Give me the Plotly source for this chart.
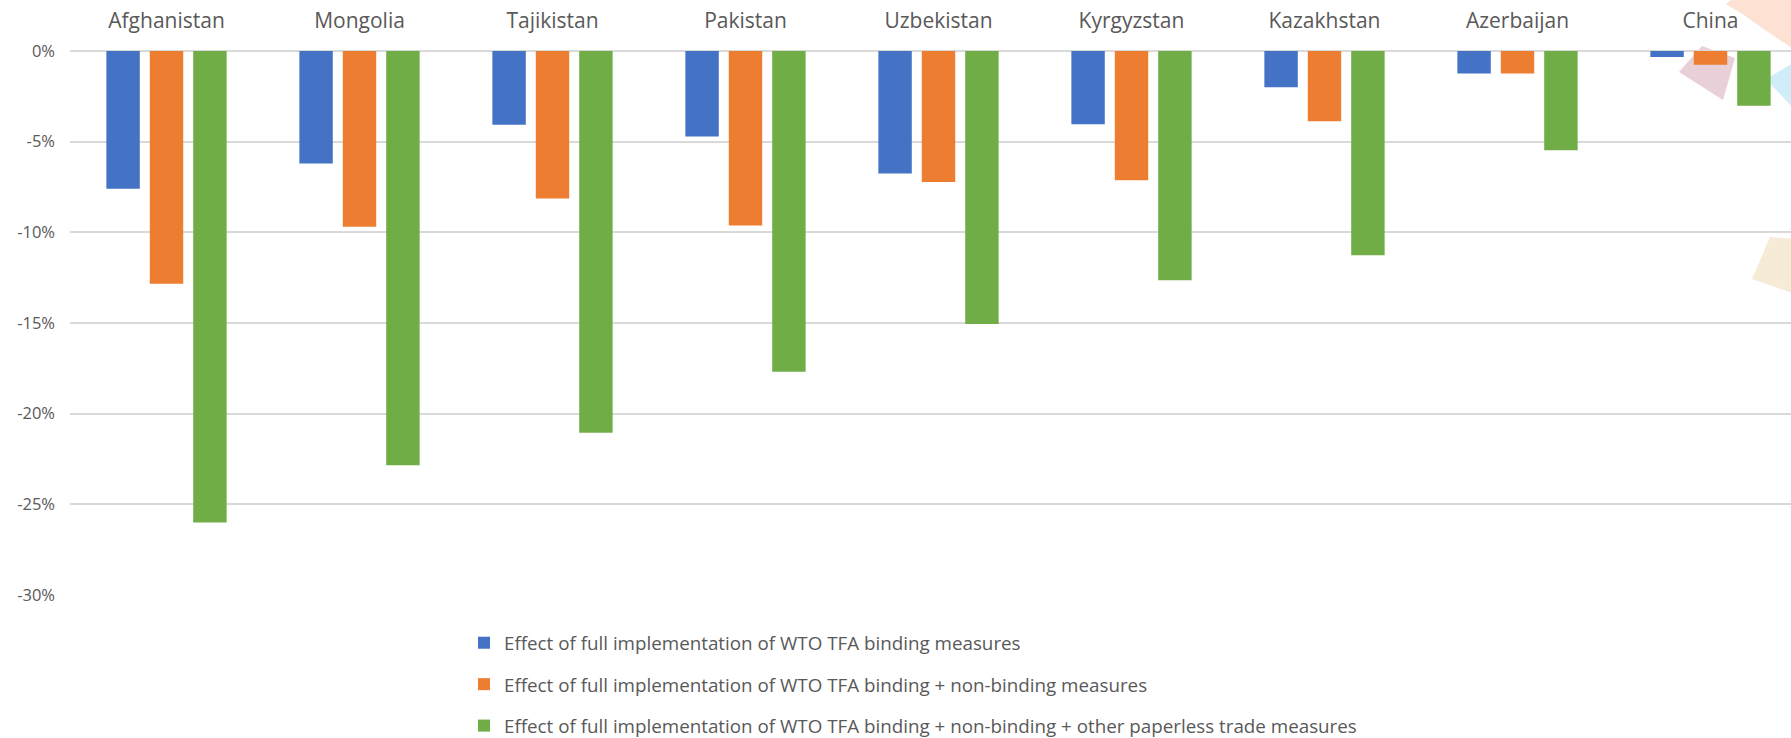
import plotly.graph_objects as go

countries = ["Afghanistan", "Mongolia", "Tajikistan", "Pakistan", "Uzbekistan",
             "Kyrgyzstan", "Kazakhstan", "Azerbaijan", "China"]
binding = [-7.59, -6.20, -4.07, -4.72, -6.76, -4.04, -2.00, -1.24, -0.33]
binding_nonbinding = [-12.83, -9.69, -8.13, -9.63, -7.22, -7.13, -3.87, -1.24, -0.76]
binding_nonbinding_paperless = [-26.0, -22.85, -21.05, -17.69, -15.05, -12.64, -11.27, -5.48, -3.02]
series_names = [
    "Effect of full implementation of WTO TFA binding measures",
    "Effect of full implementation of WTO TFA binding + non-binding measures",
    "Effect of full implementation of WTO TFA binding + non-binding + other paperless trade measures",
]
tick_values = [0, -5, -10, -15, -20, -25, -30]
tick_labels = ["0%", "-5%", "-10%", "-15%", "-20%", "-25%", "-30%"]

colors = ["#4472C4", "#ED7D31", "#70AD47"]
W, H = 1791, 738
ML, MR, MT, MB = 70, 0, 51, 143
PW, PH = W - ML - MR, H - MT - MB
FONT = "Open Sans"
TXT = "#595959"

fig = go.Figure()
for i, (name, vals) in enumerate(zip(series_names,
                                     [binding, binding_nonbinding, binding_nonbinding_paperless])):
    fig.add_trace(go.Bar(
        x=countries, y=vals, name=name, legendgroup=f"g{i}",
        marker=dict(color=colors[i], line=dict(width=0)),
    ))

def px(x, y):
    return (x - ML) / PW, (H - MB - y) / PH

def path(points):
    pts = [px(x, y) for x, y in points]
    return "M " + " L ".join(f"{a:.5f},{b:.5f}" for a, b in pts) + " Z"

# decorative background shapes at the right edge (pixel positions)
decor = [
    ([(1726, 4), (1733, -2), (1795, -2), (1795, 50), (1762, 28), (1744, 15)], "#FDE2D4"),
    ([(1679, 72), (1702, 46), (1735, 58), (1723, 100)], "#E9CFD7"),
    ([(1766, 79), (1795, 62), (1795, 110)], "#CFEEF7"),
    ([(1770, 237), (1795, 239), (1795, 294), (1752, 279)], "#F6EBD5"),
]
shapes = []
for pts, col in decor:
    shapes.append(dict(type="path", xref="paper", yref="paper", path=path(pts),
                       fillcolor=col, line=dict(width=0), layer="below"))

fig.update_layout(
    width=W, height=H,
    margin=dict(l=ML, r=MR, t=MT, b=MB, pad=0, autoexpand=False),
    paper_bgcolor="white", plot_bgcolor="rgba(0,0,0,0)",
    font=dict(family=FONT, color=TXT),
    barmode="group", bargap=0.325, bargroupgap=0.23,
    showlegend=True,
    legend=dict(
        x=(464 - ML) / PW, xanchor="left",
        y=(H - MB - 624) / PH, yanchor="top",
        font=dict(family=FONT, size=18.8, color=TXT),
        traceorder="grouped", tracegroupgap=14,
        bgcolor="rgba(0,0,0,0)",
    ),
    shapes=shapes,
    xaxis=dict(
        side="top", range=[-0.5, -0.5 + PW / 193.0], automargin=False,
        showgrid=False, showline=False, zeroline=False, ticks="",
        tickfont=dict(family=FONT, size=21, color=TXT),
        ticklabelstandoff=18,
    ),
    yaxis=dict(
        range=[-30, 0], tickvals=tick_values, ticktext=tick_labels, automargin=False,
        showgrid=True, gridcolor="#D9D9D9", gridwidth=1.5,
        zeroline=True, zerolinecolor="#D9D9D9", zerolinewidth=1.5,
        showline=False, ticks="",
        tickfont=dict(family=FONT, size=16.5, color=TXT),
        ticklabelstandoff=14,
    ),
)

fig.write_html(
    "out.html",
    config={"displayModeBar": False},
    post_script="document.body.style.margin='0';document.body.style.overflow='hidden';",
)
